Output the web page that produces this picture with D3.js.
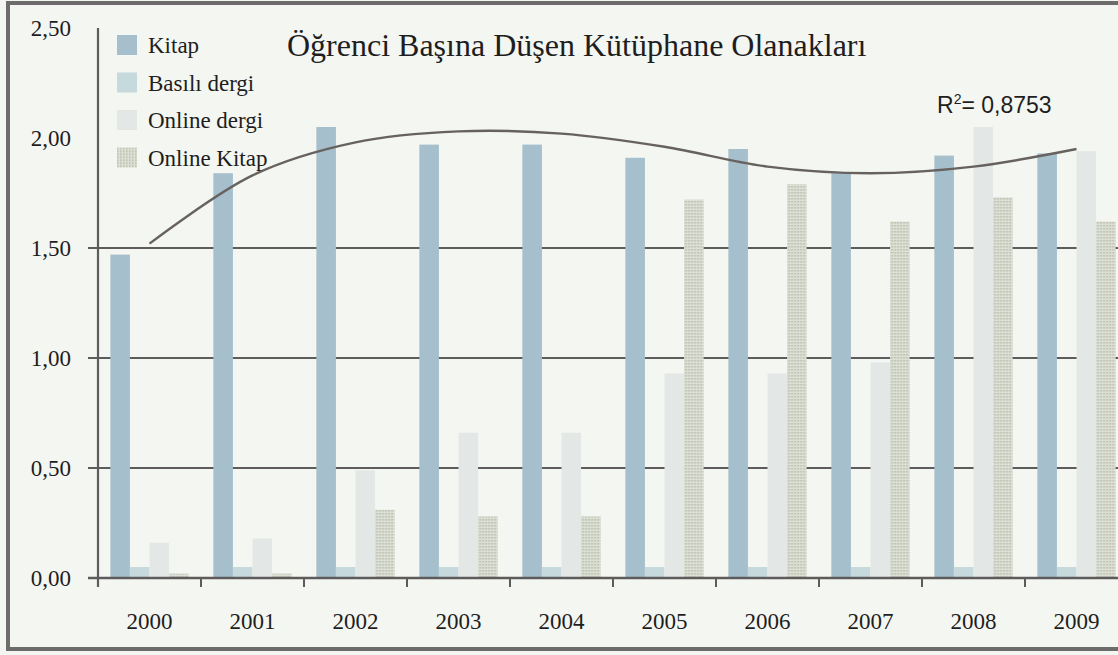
<!DOCTYPE html>
<html>
<head>
<meta charset="utf-8">
<script src="https://cdn.jsdelivr.net/npm/d3@7"></script>
<style>
  html, body { margin: 0; padding: 0; background: #f4f6f1; overflow: hidden; }
  svg { display: block; }
</style>
</head>
<body>
<svg class="Chart"></svg>
<script>
// values
var years = ["2000", "2001", "2002", "2003", "2004", "2005", "2006", "2007", "2008", "2009"];
var seriesNames = ["Kitap", "Basılı dergi", "Online dergi", "Online Kitap"];
var kitap       = [1.47, 1.84, 2.05, 1.97, 1.97, 1.91, 1.95, 1.84, 1.92, 1.93];
var basiliDergi = [0.05, 0.05, 0.05, 0.05, 0.05, 0.05, 0.05, 0.05, 0.05, 0.05];
var onlineDergi = [0.16, 0.18, 0.49, 0.66, 0.66, 0.93, 0.93, 0.98, 2.05, 1.94];
var onlineKitap = [0.02, 0.02, 0.31, 0.28, 0.28, 1.72, 1.79, 1.62, 1.73, 1.62];
// polynomial trend line of Kitap, read at each year
var trend = [1.52, 1.83, 1.98, 2.03, 2.02, 1.96, 1.87, 1.84, 1.87, 1.95];
var yTicks = [0, 0.5, 1.0, 1.5, 2.0, 2.5];
var gridTicks = [0.5, 1.0, 1.5];
var r2Label = "0,8753";
var title = "Öğrenci Başına Düşen Kütüphane Olanakları";

var width = 1118, height = 655;
var colors = ["#a6bfcc", "#c6d9dc", "#e3e7e6", "url(#dots)"];
var serif = "Liberation Serif, Times New Roman, serif";
var fmt = d => d3.format(".2f")(d).replace(".", ",");

function drawChart(){
    let svg = d3.select(".Chart")
        .attr("width", width)
        .attr("height", height);

    let defs = svg.append("defs");
    let pat = defs.append("pattern")
        .attr("id", "dots")
        .attr("width", 3).attr("height", 3)
        .attr("patternUnits", "userSpaceOnUse");
    pat.append("rect").attr("width", 3).attr("height", 3).attr("fill", "#dde0d4");
    pat.append("rect").attr("width", 1.6).attr("height", 1.6).attr("fill", "#b9beaf");

    svg.append("rect")
        .attr("width", width).attr("height", height)
        .attr("fill", "#f4f6f1");

    let x0 = d3.scaleBand()
        .domain(years)
        .range([98, 1128])
        .paddingInner(0.24)
        .paddingOuter(0.12);
    let x1 = d3.scaleBand()
        .domain(seriesNames)
        .range([0, x0.bandwidth()]);
    let y = d3.scaleLinear()
        .domain([0, 2.5])
        .range([578, 28]);

    // grid lines (behind bars)
    svg.append("g").selectAll("line")
        .data(gridTicks)
        .join("line")
        .attr("x1", 88).attr("x2", width)
        .attr("y1", d => y(d)).attr("y2", d => y(d))
        .attr("stroke", "#5e5b5c")
        .attr("stroke-width", 2.2);

    let series = [kitap, basiliDergi, onlineDergi, onlineKitap];
    let group = svg.append("g").selectAll("g")
        .data(years)
        .join("g")
        .attr("transform", d => "translate(" + x0(d) + ",0)");

    group.selectAll("rect")
        .data((d, i) => seriesNames.map((s, k) => ({key: s, k: k, value: series[k][i]})))
        .join("rect")
        .attr("x", d => x1(d.key))
        .attr("width", x1.bandwidth())
        .attr("y", d => y(d.value))
        .attr("height", d => y(0) - y(d.value))
        .attr("fill", d => colors[d.k]);

    // y axis
    let yAxis = svg.append("g").attr("stroke", "#5e5b5c");
    yAxis.append("line")
        .attr("x1", 98).attr("x2", 98)
        .attr("y1", y(2.5)).attr("y2", y(0) + 9)
        .attr("stroke-width", 2.2);
    yAxis.append("line")
        .attr("x1", 88).attr("x2", width)
        .attr("y1", y(0)).attr("y2", y(0))
        .attr("stroke-width", 2.4);

    svg.append("g").selectAll("text")
        .data(yTicks)
        .join("text")
        .attr("x", 71)
        .attr("y", d => y(d))
        .attr("dy", "0.35em")
        .attr("text-anchor", "end")
        .attr("font-family", serif)
        .attr("font-size", 23)
        .attr("fill", "#1e1e1e")
        .text(fmt);

    // x ticks between categories
    let step = x0.step();
    svg.append("g").selectAll("line")
        .data(d3.range(years.length + 1))
        .join("line")
        .attr("x1", i => 98 + i * step).attr("x2", i => 98 + i * step)
        .attr("y1", y(0)).attr("y2", y(0) + 9)
        .attr("stroke", "#5e5b5c")
        .attr("stroke-width", 2);

    svg.append("g").selectAll("text")
        .data(years)
        .join("text")
        .attr("x", d => x0(d) + x0.bandwidth() / 2)
        .attr("y", 629)
        .attr("text-anchor", "middle")
        .attr("font-family", serif)
        .attr("font-size", 23)
        .attr("fill", "#1e1e1e")
        .text(d => d);

    // trend line
    let line = d3.line()
        .x((d, i) => x0(years[i]) + x0.bandwidth() / 2)
        .y(d => y(d))
        .curve(d3.curveCatmullRom.alpha(0.5));
    svg.append("path")
        .datum(trend)
        .attr("d", line)
        .attr("fill", "none")
        .attr("stroke", "#67625f")
        .attr("stroke-width", 2.4);

    let r2 = svg.append("text")
        .attr("x", 937).attr("y", 113)
        .attr("font-family", "Liberation Sans, Arial, sans-serif")
        .attr("font-size", 23)
        .attr("fill", "#1e1e1e");
    r2.append("tspan").text("R");
    r2.append("tspan").attr("dy", -9).attr("font-size", 14).text("2");
    r2.append("tspan").attr("dy", 9).text("= " + r2Label);

    // title
    svg.append("text")
        .attr("x", 287).attr("y", 56)
        .attr("font-family", serif)
        .attr("font-size", 32)
        .attr("fill", "#1e1e1e")
        .text(title);

    // legend
    let legend = svg.append("g").selectAll("g")
        .data(seriesNames)
        .join("g")
        .attr("transform", (d, i) => "translate(117," + (35 + i * 37.5) + ")");
    legend.append("rect")
        .attr("width", 20).attr("height", 20)
        .attr("fill", (d, i) => colors[i]);
    legend.append("text")
        .attr("x", 31).attr("y", 18)
        .attr("font-family", serif)
        .attr("font-size", 23)
        .attr("fill", "#1e1e1e")
        .text(d => d);

    // frame of the scanned figure
    svg.append("rect")
        .attr("x", 8).attr("y", 3)
        .attr("width", 1130).attr("height", 646)
        .attr("fill", "none")
        .attr("stroke", "#6d6b6b")
        .attr("stroke-width", 4);
}

drawChart();
</script>
</body>
</html>
